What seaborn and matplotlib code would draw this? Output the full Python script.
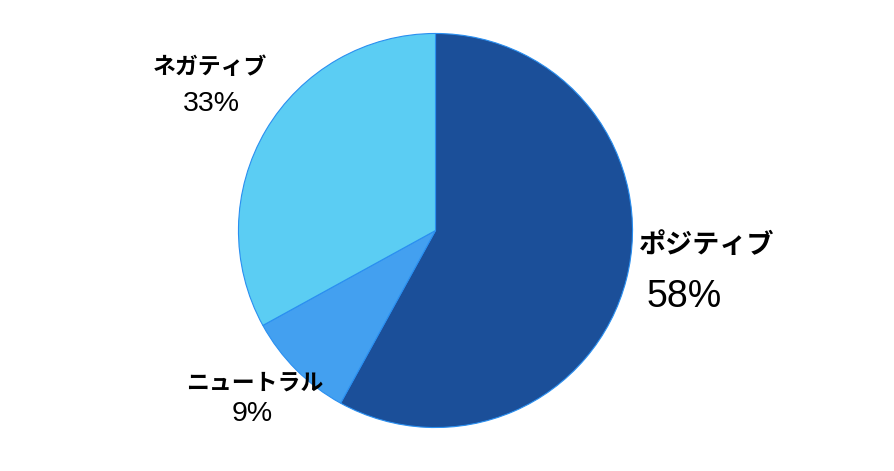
import matplotlib
matplotlib.use("Agg")
import matplotlib.pyplot as plt
import seaborn as sns

# data
labels = ["ポジティブ", "ニュートラル", "ネガティブ"]
shares = [58, 9, 33]
colors = ["#1b4f99", "#43a0f0", "#5bcdf3"]

sns.set_theme(style="white")
plt.rcParams['font.family'] = ['Noto Sans CJK JP', 'DejaVu Sans']

W, H = 894, 471
fig = plt.figure(figsize=(W / 100, H / 100), dpi=100)
fig.patch.set_facecolor("white")

cx, cy, r = 435.5, 230.5, 199
ax = fig.add_axes([(cx - r) / W, (H - cy - r) / H, 2 * r / W, 2 * r / H])
ax.pie(shares, colors=colors, startangle=90, counterclock=False, radius=1,
       wedgeprops={'edgecolor': '#2a8ff0', 'linewidth': 0.8})
ax.set_xlim(-1.01, 1.01)
ax.set_ylim(-1.01, 1.01)
ax.set_aspect('equal')
ax.axis('off')

def px(x, y):
    return x / W, 1 - y / H

# (name pos, pct pos, name size, pct size)
label_layout = [
    ((707, 245), (684, 297), 19.5, 27),
    ((255, 383), (252, 414), 16.5, 20.5),
    ((210, 67), (211, 104), 16.5, 20.5),
]

for name, share, (npos, ppos, ns, ps) in zip(labels, shares, label_layout):
    fig.text(*px(*npos), name, ha='center', va='center', fontsize=ns,
             fontweight='bold', color='black')
    fig.text(*px(*ppos), f"{share}%", ha='center', va='center', fontsize=ps,
             family=['Liberation Sans', 'DejaVu Sans'], color='black')

fig.savefig("out.png", dpi=100, facecolor="white")
